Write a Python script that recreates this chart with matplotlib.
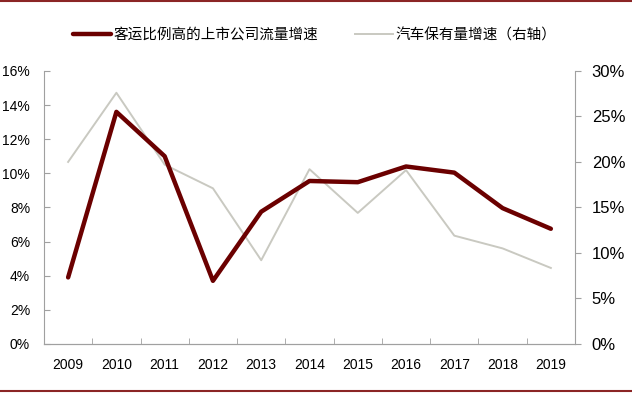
import matplotlib
matplotlib.use("Agg")
import matplotlib.pyplot as plt
from matplotlib.lines import Line2D
from matplotlib.ticker import FuncFormatter, FixedLocator

plt.rcParams['font.family'] = ['Liberation Sans', 'Noto Sans CJK SC', 'DejaVu Sans']

years = ['2009', '2010', '2011', '2012', '2013', '2014', '2015', '2016', '2017', '2018', '2019']
flow_growth = [3.9, 13.6, 11.0, 3.7, 7.75, 9.55, 9.48, 10.4, 10.04, 7.96, 6.75]
car_growth = [20.0, 27.6, 19.7, 17.1, 9.2, 19.2, 14.4, 19.1, 11.9, 10.5, 8.35]
name_flow = '客运比例高的上市公司流量增速'
name_car = '汽车保有量增速（右轴）'

dark = '#6b0000'
gray = '#c9c9c1'
spine_c = '#a0a0a0'

fig = plt.figure(figsize=(6.32, 3.94), dpi=100)
ax = fig.add_axes([0.0696, 0.127, 0.8402, 0.693])
ax2 = ax.twinx()

x = list(range(len(years)))
l2, = ax2.plot(x, car_growth, color=gray, lw=1.4, zorder=1)
l1, = ax.plot(x, flow_growth, color=dark, lw=3.2, solid_capstyle='round', zorder=3)
ax.set_zorder(ax2.get_zorder() + 1)
ax.patch.set_visible(False)

ax.set_xlim(-0.5, 10.5)
ax.set_ylim(0, 16)
ax2.set_ylim(0, 30)
ax.set_yticks(range(0, 17, 2))
ax2.set_yticks(range(0, 31, 5))
ax.yaxis.set_major_formatter(FuncFormatter(lambda v, p: '%d%%' % v))
ax2.yaxis.set_major_formatter(FuncFormatter(lambda v, p: '%d%%' % v))
ax.set_xticks(x)
ax.set_xticklabels(years)
ax.xaxis.set_minor_locator(FixedLocator([i + 0.5 for i in range(-1, 11)]))
ax.tick_params(axis='x', which='major', length=0, pad=10, labelsize=10)
ax.tick_params(axis='x', which='minor', direction='in', length=4, color=spine_c)
ax.tick_params(axis='y', direction='in', length=4, color=spine_c, labelsize=10, pad=10)
ax2.tick_params(axis='y', direction='out', length=4, color=spine_c, labelsize=12, pad=8)

for a in (ax, ax2):
    a.spines['top'].set_visible(False)
    for s in ('left', 'right', 'bottom'):
        a.spines[s].set_color(spine_c)
ax.spines['right'].set_visible(False)
ax2.spines['left'].set_visible(False)

fig.legend([l1, l2], [name_flow, name_car], loc='center', bbox_to_anchor=(0.498, 0.911),
           ncol=2, frameon=False, handlelength=2.6, handletextpad=0.2, columnspacing=2.5,
           prop={'family': ['Noto Sans CJK SC', 'DejaVu Sans'], 'size': 10.5})

for yy in (0.997, 0.008):
    fig.add_artist(Line2D([0, 1], [yy, yy], color='#8b2525', lw=1.5, transform=fig.transFigure))

fig.savefig('out.png', dpi=100)
